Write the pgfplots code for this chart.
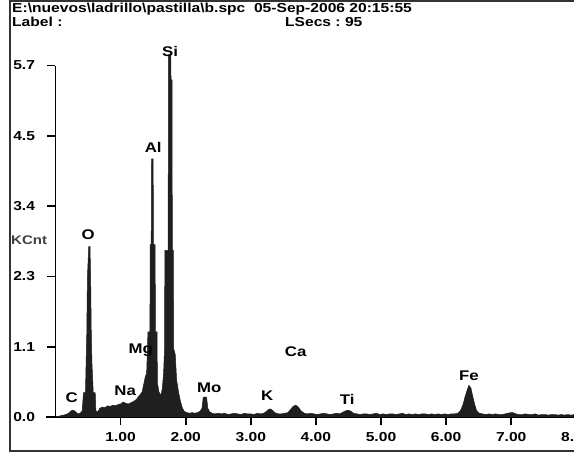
\documentclass[border=0pt]{standalone}
\usepackage{fontspec}
\setmainfont{Liberation Sans}[FakeStretch=1.2]
\usepackage{pgfplots}
\pgfplotsset{compat=1.18}
\begin{document}
\begin{tikzpicture}[x=1pt,y=1pt]
\useasboundingbox (0,0) rectangle (574,454);
\fill[white] (0,0) rectangle (574,454);
\draw[line width=1.4pt, black!80] (10,3) rectangle (600,453);
\node[anchor=base west, inner sep=0pt, font=\fontsize{13}{15}\selectfont\bfseries] at (12,441.5)
  {E:\textbackslash nuevos\textbackslash ladrillo\textbackslash pastilla\textbackslash b.spc\ \ 05-Sep-2006 20:15:55};
\node[anchor=base west, inner sep=0pt, font=\fontsize{13}{15}\selectfont\bfseries] at (12,427) {Label :};
\node[anchor=base west, inner sep=0pt, font=\fontsize{13}{15}\selectfont\bfseries] at (285,427) {LSecs :\ 95};
\node[anchor=west, inner sep=0pt, font=\fontsize{12.5}{14}\selectfont\bfseries, text=black!75] at (11,214) {KCnt};
\begin{axis}[
  at={(55.5pt,37pt)}, anchor=south west,
  scale only axis,
  x=65.1pt, y=62.2pt,
  xmin=0, xmax=8, ymin=0, ymax=5.65,
  axis x line*=bottom, axis y line*=left,
  axis line style={line width=1.8pt, black},
  clip=false,
  tick align=outside,
  major tick length=8pt,
  tick style={line width=1.6pt, black},
  xtick={1,2,3,4,5,6,7,8},
  xticklabels={1.00,2.00,3.00,4.00,5.00,6.00,7.00,8.00},
  ytick={0,1.13,2.26,3.39,4.52,5.65},
  yticklabels={0.0,1.1,2.3,3.4,4.5,5.7},
  /pgf/number format/assume math mode=true,
  ticklabel style={font=\fontsize{13}{15}\selectfont\bfseries},
  xticklabel style={yshift=-4pt},
  yticklabel style={anchor=east, xshift=-9pt},
]
\addplot[fill=black!88, draw=black!88, line width=0.5pt] coordinates {
(0.00,0.00) (0.04,0.01) (0.08,0.02) (0.12,0.03) (0.16,0.04) (0.20,0.06) (0.23,0.09) (0.26,0.11) (0.29,0.10) (0.32,0.07)
(0.35,0.05) (0.38,0.06) (0.41,0.10) (0.43,0.39) (0.46,0.39) (0.47,0.87) (0.48,1.32) (0.49,2.23) (0.51,2.74) (0.53,2.74)
(0.54,2.23) (0.55,1.32) (0.56,0.87) (0.58,0.39) (0.61,0.39) (0.62,0.10) (0.65,0.08) (0.68,0.14) (0.72,0.16) (0.76,0.15)
(0.80,0.18) (0.84,0.17) (0.88,0.19) (0.92,0.18) (0.96,0.20) (1.00,0.21) (1.04,0.24) (1.08,0.22) (1.12,0.21) (1.16,0.23)
(1.20,0.25) (1.24,0.28) (1.27,0.32) (1.30,0.36) (1.33,0.40) (1.36,0.55) (1.38,0.65) (1.40,0.70) (1.42,1.37) (1.45,1.37)
(1.455,2.77) (1.47,2.77) (1.475,4.15) (1.50,4.15) (1.505,2.77) (1.53,2.77) (1.535,1.37) (1.56,1.37) (1.565,0.55) (1.59,0.40)
(1.62,0.35) (1.64,0.45) (1.66,0.70) (1.675,1.10) (1.68,2.68) (1.73,2.68) (1.735,5.82) (1.77,5.82) (1.775,5.42) (1.79,5.42)
(1.795,2.68) (1.81,2.68) (1.815,1.10) (1.84,1.00) (1.86,0.60) (1.89,0.40) (1.92,0.25) (1.95,0.14) (1.98,0.09) (2.02,0.07)
(2.06,0.06) (2.10,0.07) (2.14,0.06) (2.18,0.07) (2.22,0.09) (2.25,0.14) (2.27,0.32) (2.32,0.32) (2.34,0.14) (2.37,0.08)
(2.41,0.06) (2.45,0.05) (2.50,0.06) (2.55,0.05) (2.60,0.06) (2.65,0.04) (2.70,0.05) (2.75,0.06) (2.80,0.05) (2.85,0.04)
(2.90,0.06) (2.95,0.05) (3.00,0.05) (3.05,0.04) (3.10,0.06) (3.15,0.05) (3.20,0.06) (3.24,0.09) (3.27,0.12) (3.30,0.13)
(3.33,0.11) (3.37,0.07) (3.42,0.05) (3.47,0.05) (3.52,0.06) (3.57,0.07) (3.61,0.12) (3.65,0.17) (3.69,0.19) (3.73,0.16)
(3.77,0.10) (3.82,0.06) (3.87,0.05) (3.92,0.06) (3.97,0.05) (4.02,0.04) (4.07,0.05) (4.12,0.06) (4.17,0.05) (4.22,0.04)
(4.27,0.05) (4.32,0.06) (4.37,0.05) (4.42,0.08) (4.46,0.10) (4.50,0.11) (4.54,0.09) (4.58,0.06) (4.63,0.05) (4.68,0.04)
(4.73,0.05) (4.78,0.05) (4.83,0.04) (4.88,0.05) (4.93,0.06) (4.98,0.04) (5.03,0.05) (5.08,0.04) (5.13,0.05) (5.18,0.05)
(5.23,0.04) (5.28,0.05) (5.33,0.06) (5.38,0.04) (5.43,0.05) (5.48,0.04) (5.53,0.05) (5.58,0.04) (5.63,0.05) (5.68,0.05)
(5.73,0.04) (5.78,0.05) (5.83,0.04) (5.88,0.05) (5.93,0.04) (5.98,0.05) (6.03,0.04) (6.08,0.05) (6.13,0.05) (6.18,0.06)
(6.22,0.10) (6.26,0.20) (6.29,0.32) (6.32,0.42) (6.35,0.51) (6.38,0.47) (6.41,0.33) (6.44,0.20) (6.47,0.10) (6.51,0.06)
(6.56,0.05) (6.61,0.04) (6.66,0.05) (6.71,0.04) (6.76,0.05) (6.81,0.04) (6.86,0.04) (6.91,0.05) (6.95,0.06) (6.99,0.07)
(7.03,0.07) (7.07,0.05) (7.12,0.04) (7.17,0.04) (7.22,0.05) (7.27,0.04) (7.32,0.04) (7.37,0.05) (7.42,0.03) (7.47,0.04)
(7.52,0.04) (7.57,0.03) (7.62,0.04) (7.67,0.04) (7.72,0.03) (7.77,0.04) (7.82,0.03) (7.87,0.04) (7.92,0.03) (7.97,0.04)
(8.00,0.03)
} \closedcycle;
\draw[line width=1.8pt] (axis cs:-0.146,0) -- (axis cs:0,0);
\begin{scope}[every node/.style={font=\fontsize{14}{16}\selectfont\bfseries, inner sep=0pt}]
\node at (axis cs:0.25,0.31) {C};
\node at (axis cs:0.50,2.93) {O};
\node at (axis cs:1.07,0.42) {Na};
\node at (axis cs:1.31,1.08) {Mg};
\node at (axis cs:1.50,4.34) {Al};
\node at (axis cs:1.76,5.87) {Si};
\node at (axis cs:2.36,0.47) {Mo};
\node at (axis cs:3.25,0.35) {K};
\node at (axis cs:3.69,1.05) {Ca};
\node at (axis cs:4.48,0.29) {Ti};
\node at (axis cs:6.35,0.66) {Fe};
\end{scope}
\end{axis}
\end{tikzpicture}
\end{document}
